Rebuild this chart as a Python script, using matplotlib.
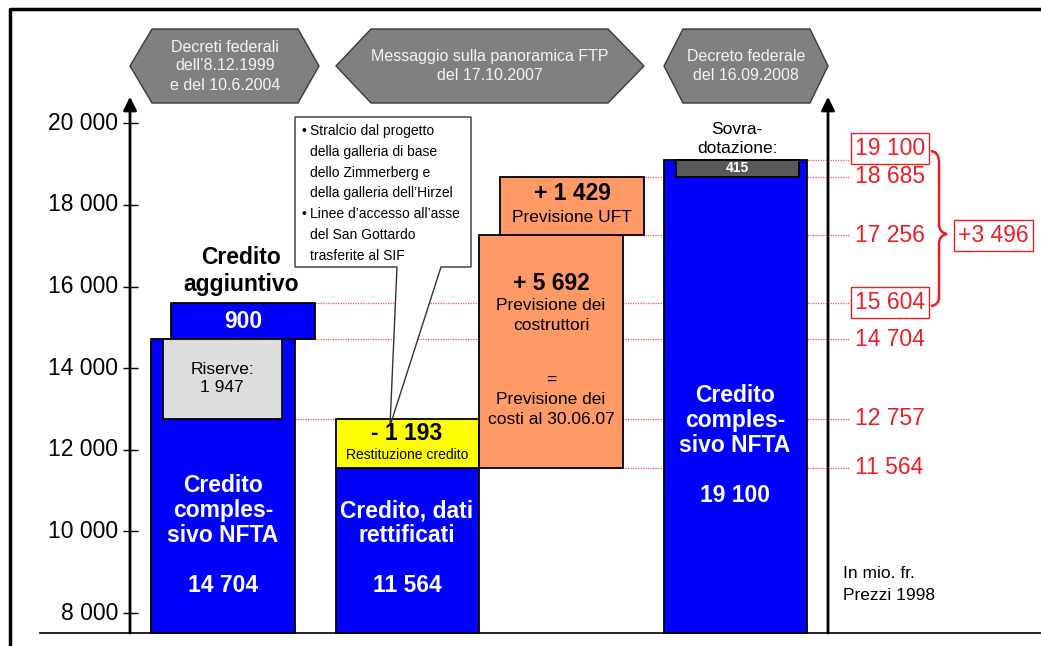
import matplotlib
matplotlib.use('Agg')
import matplotlib.pyplot as plt
from matplotlib.patches import Polygon, PathPatch
from matplotlib.path import Path
from matplotlib.transforms import Affine2D
from matplotlib import font_manager

# Credits in mio. fr. (prices 1998)
credit_nfta_old = 14704
reserves = 1947
credit_additional = 900
credit_adjusted = 11564
restitution = 1193
forecast_builders = 5692
forecast_uft = 1429
credit_nfta_new = 19100
surplus = 415

# reference levels shown on the right
level_values = [19100, 18685, 17256, 15604, 14704, 12757, 11564]
boxed_levels = [19100, 15604]
difference = 3496

y_ticks = [8000, 10000, 12000, 14000, 16000, 18000, 20000]

banner_texts = [
    ["Decreti federali", "dell\u20198.12.1999", "e del 10.6.2004"],
    ["Messaggio sulla panoramica FTP", "del 17.10.2007"],
    ["Decreto federale", "del 16.09.2008"],
]

callout_lines = [
    ("\u2022", "Stralcio dal progetto"),
    ("", "della galleria di base"),
    ("", "dello Zimmerberg e"),
    ("", "della galleria dell\u2019Hirzel"),
    ("\u2022", "Linee d\u2019accesso all\u2019asse"),
    ("", "del San Gottardo"),
    ("", "trasferite al SIF"),
]

BLUE = '#0000FF'
ORANGE = '#FF9966'
YELLOW = '#FFFF00'
LGREY = '#DDDDDD'
DGREY = '#595959'
RED = '#EE1C25'

plt.rcParams['font.family'] = ['Liberation Sans', 'DejaVu Sans']

names = {f.name for f in font_manager.fontManager.ttflist}
if 'Liberation Sans Narrow' in names:
    NARROW, NARROW_SIZE = 'Liberation Sans Narrow', 12.5
else:
    NARROW, NARROW_SIZE = 'Liberation Sans', 10


def fmt(v):
    return f"{v:,}".replace(",", " ")


W, H = 1041, 646
PPU = 0.04081   # pixels per mio. fr.
Y8K = 613       # pixel row of the 8 000 tick
BASE = 7510     # bottom of the columns
AXIS_TOP = 20650

fig = plt.figure(figsize=(W / 100, H / 100), dpi=100)
ax = fig.add_axes([0, 0, 1, 1])
ax.set_xlim(0, W)
ax.set_ylim(8000 - (H - Y8K) / PPU, 8000 + Y8K / PPU)
ax.axis('off')

# pixel transform (origin top-left) for decorations
px = Affine2D().scale(1 / W, -1 / H).translate(0, 1) + fig.transFigure


def block(x0, x1, lo, hi, color, z=3):
    ax.bar((x0 + x1) / 2, hi - lo, bottom=lo, width=x1 - x0, color=color,
           edgecolor='black', linewidth=1.3, zorder=z)


def stack(x, y0, step, lines, ha='center', **kw):
    for i, s in enumerate(lines):
        ax.text(x, y0 + i * step, s, transform=px, ha=ha, va='center',
                zorder=7, **kw)


# frame
ax.plot([10, 10, W], [H, 9, 9], transform=px, color='black', lw=2.5,
        solid_capstyle='butt', zorder=8)
ax.plot([40, W], [BASE, BASE], color='black', lw=1.2, zorder=6)

# banners
banner_shapes = [(130, 152, 298, 319), (336, 371, 608, 644), (664, 683, 810, 828)]
banner_centers = [225, 490, 746]
for (a, b, c, d), cx, lines in zip(banner_shapes, banner_centers, banner_texts):
    poly = Polygon([(a, 66), (b, 29), (c, 29), (d, 66), (c, 103), (b, 103)],
                   closed=True, transform=px, fc='#808080', ec='#3a3a3a',
                   lw=1, zorder=5)
    ax.add_patch(poly)
    step = 19
    y0 = 66 - step * (len(lines) - 1) / 2
    stack(cx, y0, step, lines, color='#F4F4F4', fontsize=11.5)

# axes with arrows
for xa in (130, 828):
    ax.annotate('', xy=(xa, AXIS_TOP), xytext=(xa, BASE),
                arrowprops=dict(arrowstyle='-|>,head_length=0.8,head_width=0.4',
                                lw=2, color='black', shrinkA=0, shrinkB=0),
                zorder=6)
ax.hlines(y_ticks, 123, 138, color='black', lw=1, zorder=6)
for t in y_ticks:
    ax.text(118, t, fmt(t), ha='right', va='center', fontsize=16.5)

# dotted reference lines
dotted_start = [700, 560, 560, 315, 295, 295, 560]
ax.hlines(level_values, dotted_start, 849, colors='#FF5050', lw=0.9,
          linestyles=(0, (1, 1)), zorder=1)

# columns
top_add = credit_nfta_old + credit_additional
top_builders = credit_adjusted + forecast_builders
top_uft = top_builders + forecast_uft
block(151, 295, BASE, credit_nfta_old, BLUE)
block(163, 282, credit_nfta_old - reserves, credit_nfta_old, LGREY, z=4)
block(171, 315, credit_nfta_old, top_add, BLUE)
block(336, 479, BASE, credit_adjusted, BLUE)
block(336, 479, credit_adjusted, credit_adjusted + restitution, YELLOW)
block(479, 623, credit_adjusted, top_builders, ORANGE)
block(500, 644, top_builders, top_uft, ORANGE)
block(664, 807, BASE, credit_nfta_new, BLUE)
block(676, 799, credit_nfta_new - surplus, credit_nfta_new, DGREY, z=4)

# callout
call_pts = [(295, 117), (471, 117), (471, 267), (441, 267), (390, 426),
            (397, 267), (295, 267)]
ax.add_patch(Polygon(call_pts, closed=True, transform=px, fc='white',
                     ec='none', zorder=2))
ax.add_patch(Polygon(call_pts, closed=True, transform=px, fc='none',
                     ec='#333333', lw=1, zorder=5))
for i, (bullet, s) in enumerate(callout_lines):
    y = 131 + i * 20.8
    if bullet:
        ax.text(301, y, bullet, transform=px, ha='left', va='center',
                fontsize=NARROW_SIZE, family=NARROW, zorder=7)
    ax.text(310, y, s, transform=px, ha='left', va='center',
            fontsize=NARROW_SIZE, family=NARROW, zorder=7)

# texts in / around columns
bold = dict(fontweight='bold', fontsize=16.5)
stack(241, 258, 26, ["Credito", "aggiuntivo"], color='black', **bold)
stack(243, 321, 0, [fmt(credit_additional)], color='white', **bold)
stack(222, 369, 19, ["Riserve:", fmt(reserves)], color='black', fontsize=12.5)
stack(223, 485, 25.3, ["Credito", "comples-", "sivo NFTA"], color='white', **bold)
stack(223, 586, 0, [fmt(credit_nfta_old)], color='white', **bold)

stack(407, 433, 0, ["- " + fmt(restitution)], color='black', **bold)
stack(407, 455, 0, ["Restituzione credito"], color='black', fontsize=10)
stack(407, 511, 25, ["Credito, dati", "rettificati"], color='white', **bold)
stack(407, 586, 0, [fmt(credit_adjusted)], color='white', **bold)

stack(572, 194, 0, ["+ " + fmt(forecast_uft)], color='black', **bold)
stack(572, 217, 0, ["Previsione UFT"], color='black', fontsize=12.5)
stack(551, 283, 0, ["+ " + fmt(forecast_builders)], color='black', **bold)
stack(551, 306, 19.5, ["Previsione dei", "costruttori"], color='black', fontsize=12.5)
stack(551, 380, 0, ["="], color='black', fontsize=12.5)
stack(551, 400, 19.5, ["Previsione dei", "costi al 30.06.07"], color='black', fontsize=12.5)

stack(737, 130, 18.5, ["Sovra-", "dotazione:"], color='black', fontsize=12.5)
stack(737, 168, 0, [fmt(surplus)], color='white', fontweight='bold', fontsize=10)
stack(735, 395, 25, ["Credito", "comples-", "sivo NFTA"], color='white', **bold)
stack(735, 495, 0, [fmt(credit_nfta_new)], color='white', **bold)

stack(843, 574, 21, ["In mio. fr.", "Prezzi 1998"], ha='left', color='black',
      fontsize=12.5)

# red level labels
for v in level_values:
    yoff = 290 if v == level_values[0] else 0
    kw = {}
    if v in boxed_levels:
        kw['bbox'] = dict(boxstyle='square,pad=0.18', fc='white', ec=RED, lw=1)
    ax.text(855, v + yoff, fmt(v), ha='left', va='center', color=RED,
            fontsize=16.5, zorder=7, **kw)

ax.text(958, level_values[2], "+" + fmt(difference), ha='left', va='center',
        color=RED, fontsize=16.5, zorder=7,
        bbox=dict(boxstyle='square,pad=0.18', fc='white', ec=RED, lw=1))

# brace from the boxed 19 100 to the boxed 15 604
brace = Path([(931, 151), (937, 152), (939, 156), (939, 163),
              (939, 224),
              (939, 230), (942, 233), (947, 234),
              (942, 235), (939, 238), (939, 244),
              (939, 296),
              (939, 302), (937, 305), (931, 306)],
             [Path.MOVETO, Path.CURVE4, Path.CURVE4, Path.CURVE4,
              Path.LINETO,
              Path.CURVE4, Path.CURVE4, Path.CURVE4,
              Path.CURVE4, Path.CURVE4, Path.CURVE4,
              Path.LINETO,
              Path.CURVE4, Path.CURVE4, Path.CURVE4])
ax.add_patch(PathPatch(brace, transform=px, fc='none', ec=RED, lw=1.8, zorder=7))

fig.savefig('out.png', dpi=100)
